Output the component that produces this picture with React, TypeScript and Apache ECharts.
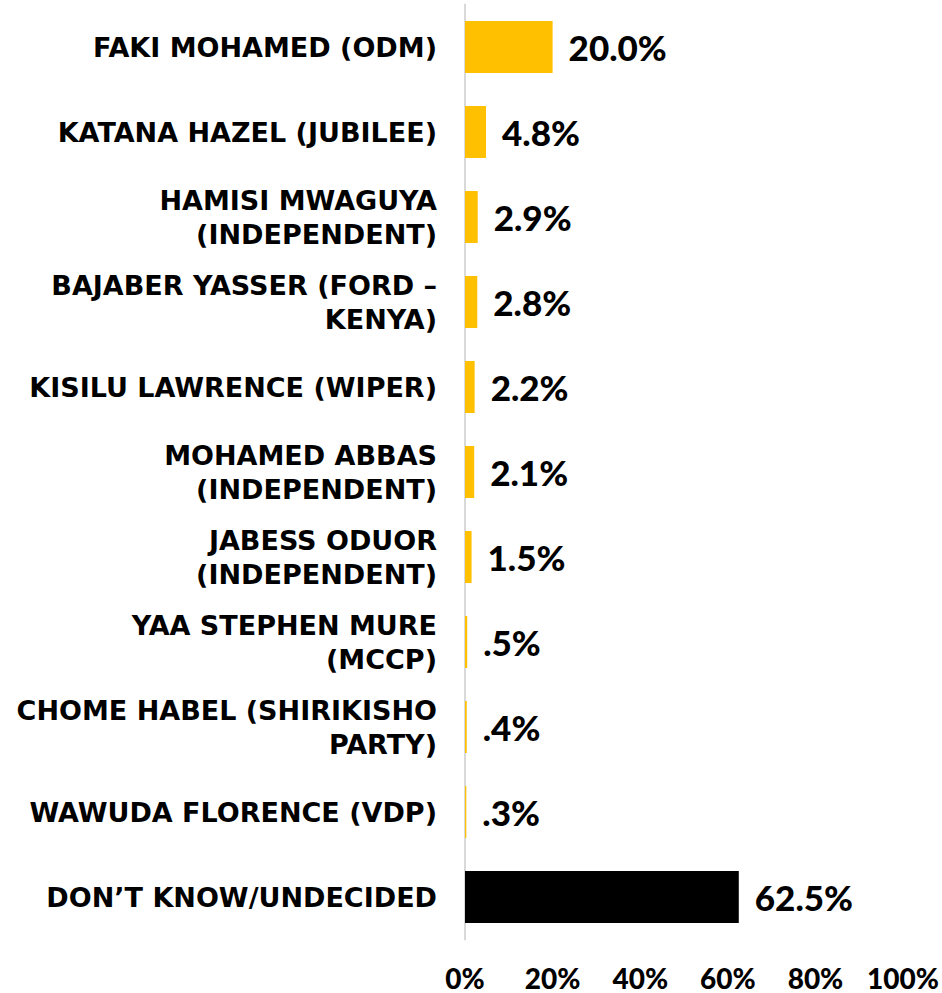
import React, { useEffect, useRef } from "react";
import * as echarts from "echarts";

const categories: string[] = [
  "FAKI MOHAMED (ODM)",
  "KATANA HAZEL (JUBILEE)",
  "HAMISI MWAGUYA\n(INDEPENDENT)",
  "BAJABER YASSER (FORD –\nKENYA)",
  "KISILU LAWRENCE (WIPER)",
  "MOHAMED ABBAS\n(INDEPENDENT)",
  "JABESS ODUOR\n(INDEPENDENT)",
  "YAA STEPHEN MURE\n(MCCP)",
  "CHOME HABEL (SHIRIKISHO\nPARTY)",
  "WAWUDA FLORENCE (VDP)",
  "DON’T KNOW/UNDECIDED",
];

const values: number[] = [20.0, 4.8, 2.9, 2.8, 2.2, 2.1, 1.5, 0.5, 0.4, 0.3, 62.5];

const xTicks: number[] = [0, 20, 40, 60, 80, 100];

const YELLOW = "#FFC000";
const BLACK = "#000000";
const FONT = "Lato, 'Open Sans', sans-serif";
const CAT_FONT = "'DejaVu Sans', Lato, sans-serif";

function fmtValue(v: number): string {
  let s = v.toFixed(1);
  if (s.startsWith("0.")) s = s.slice(1);
  return s + "%";
}

export default function App() {
  const ref = useRef<HTMLDivElement>(null);

  useEffect(() => {
    document.body.style.margin = "0";
    if (!ref.current) return;
    const chart = echarts.init(ref.current, undefined, { renderer: "svg" });
    chart.setOption({
      animation: false,
      backgroundColor: "#ffffff",
      grid: {
        left: 465,
        right: 37,
        top: 4.5,
        bottom: 53.5,
        containLabel: false,
      },
      xAxis: {
        type: "value",
        min: xTicks[0],
        max: xTicks[xTicks.length - 1],
        interval: 20,
        axisLine: { show: false },
        axisTick: { show: false },
        splitLine: { show: false },
        axisLabel: {
          formatter: "{value}%",
          color: BLACK,
          fontFamily: FONT,
          fontWeight: 900,
          fontSize: 28,
          margin: 24,
        },
      },
      yAxis: {
        type: "category",
        data: categories,
        inverse: true,
        axisLine: { show: true, lineStyle: { color: "#d9d9d9", width: 2 } },
        axisTick: { show: false },
        splitLine: { show: false },
        axisLabel: {
          color: BLACK,
          fontFamily: CAT_FONT,
          fontWeight: "bold",
          fontSize: 27,
          lineHeight: 34,
          margin: 28,
          align: "right",
        },
      },
      series: [
        {
          type: "bar",
          data: values,
          barWidth: 52,
          itemStyle: {
            color: (p: any) => (p.dataIndex === values.length - 1 ? BLACK : YELLOW),
          },
          label: {
            show: true,
            position: "right",
            distance: 16,
            color: BLACK,
            fontFamily: FONT,
            fontWeight: 900,
            fontSize: 35,
            formatter: (p: any) => fmtValue(p.value),
          },
        },
      ],
    });
    return () => chart.dispose();
  }, []);

  return <div ref={ref} style={{ width: 942, height: 993 }} />;
}
